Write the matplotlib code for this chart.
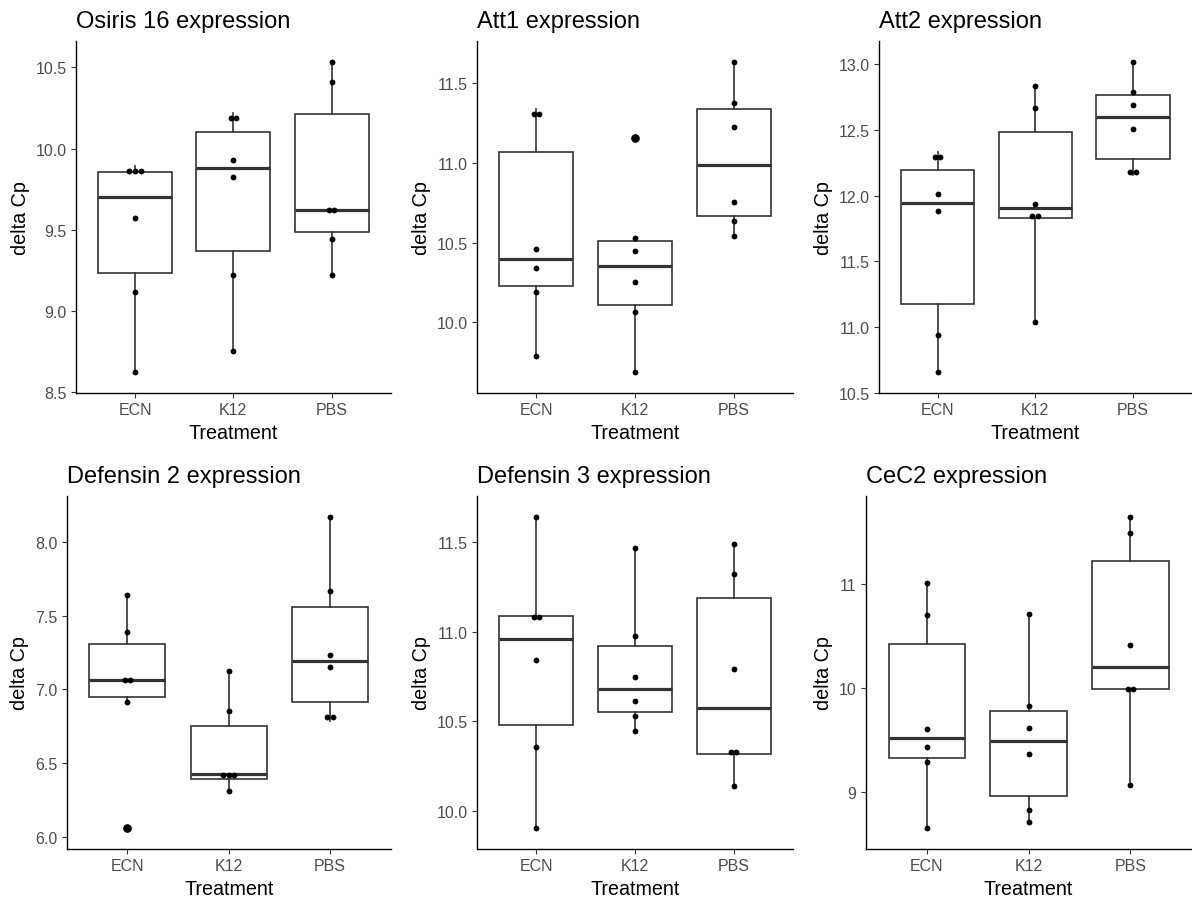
import matplotlib
matplotlib.use('Agg')
import matplotlib.pyplot as plt
from matplotlib.transforms import ScaledTranslation
import numpy as np

plt.rcParams['font.family'] = ['Liberation Sans', 'DejaVu Sans']

# ---------------- data ----------------
treatments = ['ECN', 'K12', 'PBS']

osiris_ecn = [9.830, 9.862, 9.890, 9.575, 9.120, 8.627]
osiris_k12 = [10.159, 10.217, 9.932, 9.825, 9.222, 8.752]
osiris_pbs = [10.533, 10.410, 9.620, 9.628, 9.444, 9.222]

att1_ecn = [11.275, 11.335, 10.458, 10.339, 10.188, 9.793]
att1_k12 = [11.157, 10.531, 10.447, 10.255, 10.063, 9.691]
att1_pbs = [11.632, 11.373, 11.222, 10.752, 10.635, 10.539]

att2_ecn = [12.261, 12.330, 12.010, 11.886, 10.937, 10.660]
att2_k12 = [12.835, 12.670, 11.937, 11.875, 11.815, 11.038]
att2_pbs = [13.018, 12.792, 12.690, 12.508, 12.203, 12.157]

def2_ecn = [7.643, 7.387, 7.060, 7.062, 6.914, 6.063]
def2_k12 = [7.122, 6.851, 6.4475, 6.4125, 6.3905, 6.312]
def2_pbs = [8.167, 7.667, 7.236, 7.155, 6.839, 6.789]

def3_ecn = [11.640, 11.088, 11.080, 10.844, 10.355, 9.905]
def3_k12 = [11.466, 10.979, 10.745, 10.611, 10.530, 10.446]
def3_pbs = [11.491, 11.324, 10.792, 10.354, 10.303, 10.138]

cec2_ecn = [11.006, 10.699, 9.603, 9.436, 9.292, 8.660]
cec2_k12 = [10.712, 9.830, 9.615, 9.369, 8.830, 8.712]
cec2_pbs = [11.638, 11.484, 10.413, 9.995, 9.985, 9.071]

titles = ['Osiris 16 expression', 'Att1 expression', 'Att2 expression',
          'Defensin 2 expression', 'Defensin 3 expression', 'CeC2 expression']

yticks_osiris = [8.5, 9.0, 9.5, 10.0, 10.5]
yticks_att1 = [10.0, 10.5, 11.0, 11.5]
yticks_att2 = [10.5, 11.0, 11.5, 12.0, 12.5, 13.0]
yticks_def2 = [6.0, 6.5, 7.0, 7.5, 8.0]
yticks_def3 = [10.0, 10.5, 11.0, 11.5]
yticks_cec2 = [9, 10, 11]

panels = [
    (titles[0], [osiris_ecn, osiris_k12, osiris_pbs], yticks_osiris, '{:.1f}'),
    (titles[1], [att1_ecn, att1_k12, att1_pbs], yticks_att1, '{:.1f}'),
    (titles[2], [att2_ecn, att2_k12, att2_pbs], yticks_att2, '{:.1f}'),
    (titles[3], [def2_ecn, def2_k12, def2_pbs], yticks_def2, '{:.1f}'),
    (titles[4], [def3_ecn, def3_k12, def3_pbs], yticks_def3, '{:.1f}'),
    (titles[5], [cec2_ecn, cec2_k12, cec2_pbs], yticks_cec2, '{:d}'),
]

# ---------------- layout (pixels: left, top, right, bottom) ----------------
W, H = 1192, 903
rects_px = [
    (76.0, 41.7, 390.7, 394.0),
    (477.3, 41.7, 792.7, 394.0),
    (879.0, 41.7, 1191.5, 394.0),
    (66.7, 497.0, 390.7, 850.0),
    (477.3, 497.0, 792.7, 850.0),
    (865.7, 497.0, 1191.5, 850.0),
]

GREY20 = '#333333'
GREY30 = '#4D4D4D'


def dot_bins(vals, binwidth):
    """ggplot2 'dotdensity' style binning: returns list of (center, count)."""
    v = np.sort(np.asarray(vals, dtype=float))
    bins = []
    cur = []
    binend = -np.inf
    for x in v:
        if x >= binend:
            if cur:
                bins.append(cur)
            cur = [x]
            binend = x + binwidth
        else:
            cur.append(x)
    if cur:
        bins.append(cur)
    return [((min(b) + max(b)) / 2.0, len(b)) for b in bins]


fig = plt.figure(figsize=(W / 100, H / 100), dpi=100)
fig.patch.set_facecolor('white')

dot_pt = 4.2       # dot diameter in points
for (title, groups, yt, fmt), (l, t, r, b) in zip(panels, rects_px):
    ax = fig.add_axes([l / W, 1 - b / H, (r - l) / W, (b - t) / H])
    allv = np.concatenate([np.asarray(g) for g in groups])
    rng = allv.max() - allv.min()
    bw = rng / 30.0

    ax.boxplot(groups, positions=[1, 2, 3], widths=0.75, showcaps=False,
               patch_artist=True,
               boxprops=dict(facecolor='white', edgecolor=GREY20, linewidth=1.2),
               whiskerprops=dict(color=GREY20, linewidth=1.2),
               medianprops=dict(color=GREY20, linewidth=2.3),
               flierprops=dict(marker='o', markerfacecolor='black',
                               markeredgecolor='black', markersize=5.2),
               zorder=2)

    for gi, vals in enumerate(groups):
        for center, n in dot_bins(vals, bw):
            for k in range(n):
                off = (k - (n - 1) / 2.0) * dot_pt * 0.95
                trans = ax.transData + ScaledTranslation(off / 72.0, 0, fig.dpi_scale_trans)
                ax.plot(gi + 1, center, 'o', color='black', markersize=dot_pt,
                        markeredgewidth=0, transform=trans, zorder=3)

    ext = rng + bw
    ax.set_ylim(allv.min() - bw / 2 - 0.05 * ext, allv.max() + bw / 2 + 0.05 * ext)
    ax.set_xlim(0.4, 3.6)
    ax.set_xticks([1, 2, 3])
    ax.set_xticklabels(treatments)
    ax.set_yticks(yt)
    ax.set_yticklabels([fmt.format(v) for v in yt])

    for s in ['top', 'right']:
        ax.spines[s].set_visible(False)
    for s in ['left', 'bottom']:
        ax.spines[s].set_color('black')
        ax.spines[s].set_linewidth(1.0)
    ax.tick_params(direction='out', length=3.5, width=0.8, color=GREY20,
                   labelsize=11.5, labelcolor=GREY30)
    ax.tick_params(axis='y', pad=3.2)
    ax.tick_params(axis='x', pad=3.0)

    ax.set_xlabel('Treatment', fontsize=14.2, color='black', labelpad=4)
    ax.set_ylabel('delta Cp', fontsize=14.2, color='black', labelpad=4)
    ax.set_title(title, loc='left', fontsize=17, color='black', pad=10)

fig.savefig('out.png', dpi=100, facecolor='white')
